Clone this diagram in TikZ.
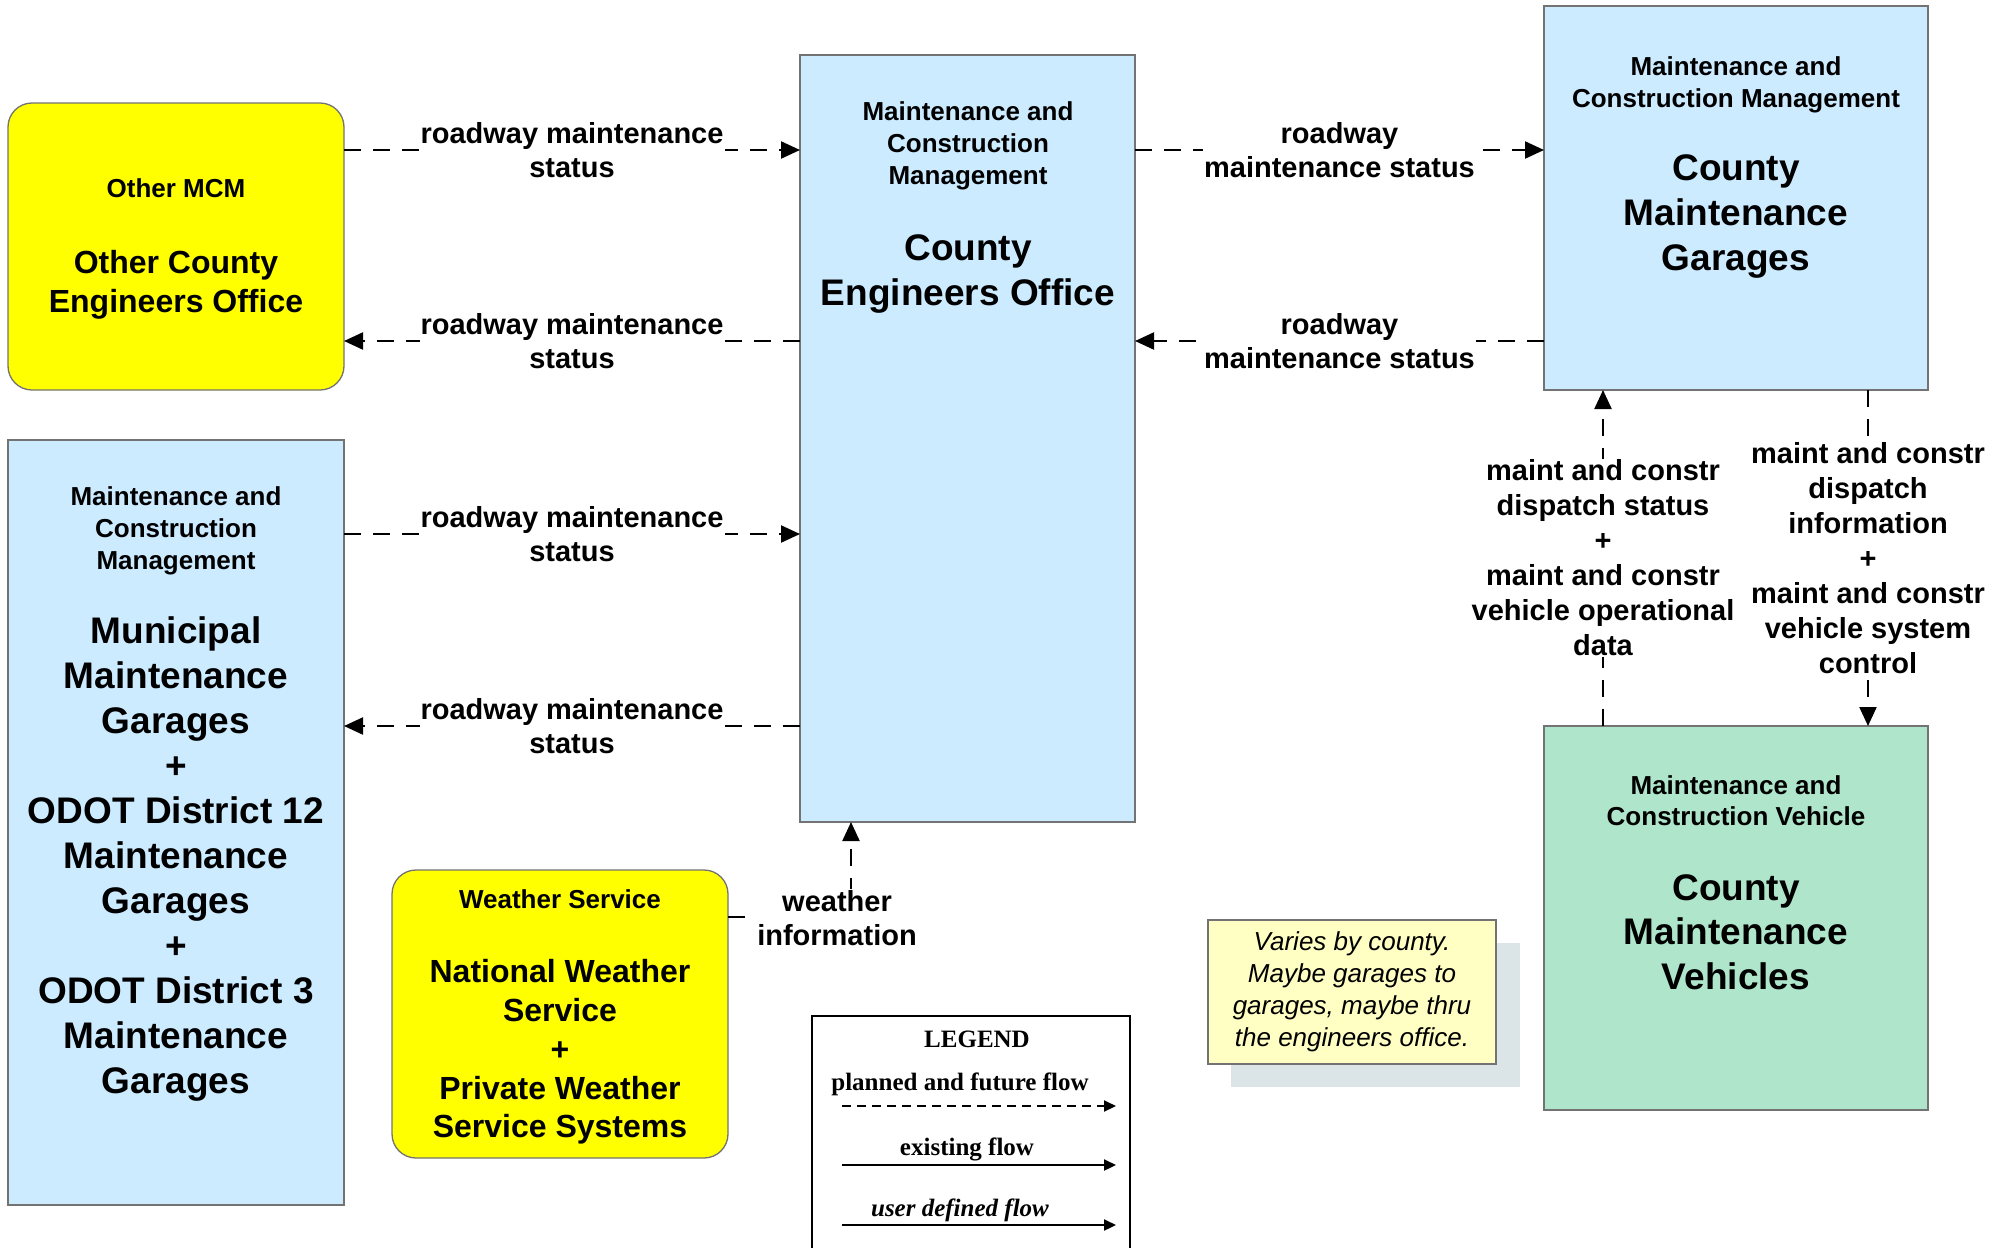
\documentclass[tikz,border=0pt]{standalone}
\usepackage{fontspec}
\setmainfont{Liberation Sans}
\newfontfamily\legfont{Liberation Serif}
\usetikzlibrary{arrows.meta}
\definecolor{boxblue}{RGB}{204,235,255}
\definecolor{boxgreen}{RGB}{174,229,203}
\definecolor{boxyellow}{RGB}{255,255,0}
\definecolor{noteyellow}{RGB}{255,255,196}
\definecolor{noteshadow}{RGB}{219,229,232}
\definecolor{edgegrey}{RGB}{115,115,115}
\begin{document}
\begin{tikzpicture}[x=1pt,y=-1pt,
  box/.style={draw=edgegrey, line width=1.3pt, inner sep=0pt, outer sep=0pt, anchor=north west},
  bluebox/.style={box, fill=boxblue},
  greenbox/.style={box, fill=boxgreen},
  ybox/.style={box, fill=boxyellow, rounded corners=24pt},
  smalltxt/.style={font=\fontsize{26}{32}\selectfont\bfseries, align=center, inner sep=0pt},
  bigtxt/.style={font=\fontsize{37}{45}\selectfont\bfseries, align=center, inner sep=0pt},
  midtxt/.style={font=\fontsize{32}{39}\selectfont\bfseries, align=center, inner sep=0pt},
  flow/.style={line width=2.2pt, dash pattern=on 17pt off 12pt, -{Triangle[length=19pt,width=17pt]}},
  lbl/.style={fill=white, inner sep=1pt, align=center, font=\fontsize{29}{34}\selectfont\bfseries},
  vlbl/.style={lbl, font=\fontsize{29}{35}\selectfont\bfseries},
  legtxt/.style={font=\legfont\bfseries\fontsize{25}{30}\selectfont, inner sep=0pt},
  legdash/.style={line width=2pt, dash pattern=on 9pt off 6pt, -{Triangle[length=12pt,width=11pt]}},
  legsolid/.style={line width=2.2pt, -{Triangle[length=12pt,width=11pt]}}
]
\useasboundingbox (0,0) rectangle (1998,1248);

% boxes
\node[ybox, minimum width=336pt, minimum height=287pt] (mcm) at (8,103) {};
\node[bluebox, minimum width=335pt, minimum height=767pt] (ceo) at (800,55) {};
\node[bluebox, minimum width=384pt, minimum height=384pt] (gar) at (1544,6) {};
\node[bluebox, minimum width=336pt, minimum height=765pt] (mun) at (8,440) {};
\node[ybox, minimum width=336pt, minimum height=288pt] (ws) at (392,870) {};
\node[greenbox, minimum width=384pt, minimum height=384pt] (veh) at (1544,726) {};

% box texts
\node[smalltxt] (ceo-s) at (968,146) {Maintenance and\\Construction\\Management};
\node[bigtxt] (ceo-b) at (968,273.5) {County\\Engineers Office};
\node[smalltxt] (gar-s) at (1736,85) {Maintenance and\\Construction Management};
\node[bigtxt] (gar-b) at (1736,216) {County\\Maintenance\\Garages};
\node[smalltxt] (mcm-s) at (176,188) {Other MCM};
\node[midtxt] (mcm-b) at (176,285) {Other County\\Engineers Office};
\node[smalltxt] (mun-s) at (176,531) {Maintenance and\\Construction\\Management};
\node[bigtxt, font=\fontsize{37}{45}\selectfont\bfseries] (mun-b) at (176,859) {Municipal\\Maintenance\\Garages\\+\\ODOT District 12\\Maintenance\\Garages\\+\\ODOT District 3\\Maintenance\\Garages};
\node[smalltxt] (ws-s) at (560,899) {Weather Service};
\node[midtxt, font=\fontsize{32}{38.75}\selectfont\bfseries] (ws-b) at (560,1052) {National Weather\\Service\\+\\Private Weather\\Service Systems};
\node[smalltxt, font=\fontsize{26}{31}\selectfont\bfseries] (veh-s) at (1736,801) {Maintenance and\\Construction Vehicle};
\node[bigtxt, font=\fontsize{37}{44.5}\selectfont\bfseries] (veh-b) at (1736,932) {County\\Maintenance\\Vehicles};

% note
\fill[noteshadow] (1231,943) rectangle (1520,1087);
\node[box, fill=noteyellow, minimum width=288pt, minimum height=144pt, align=center,
      font=\fontsize{26}{32}\selectfont\itshape] (note) at (1208,920)
  {Varies by county.\\Maybe garages to\\garages, maybe thru\\the engineers office.};

% row coordinates
\coordinate (r1) at (0,150);
\coordinate (r2) at (0,341);
\coordinate (r3) at (0,534);
\coordinate (r4) at (0,726);
\coordinate (c1) at (1603,0);
\coordinate (c2) at (1868,0);
\coordinate (wc) at (851,917);

% connectors
\draw[flow] (mcm.east |- r1) -- node[lbl] (l1) {roadway maintenance\\status} (ceo.west |- r1);
\draw[flow] (ceo.west |- r2) -- node[lbl] (l2) {roadway maintenance\\status} (mcm.east |- r2);
\draw[flow] (mun.east |- r3) -- node[lbl] (l3) {roadway maintenance\\status} (ceo.west |- r3);
\draw[flow] (ceo.west |- r4) -- node[lbl] (l4) {roadway maintenance\\status} (mun.east |- r4);
\draw[flow] (ceo.east |- r1) -- node[lbl] (l5) {roadway\\maintenance status} (gar.west |- r1);
\draw[flow] (gar.west |- r2) -- node[lbl] (l6) {roadway\\maintenance status} (ceo.east |- r2);
\draw[flow] (veh.north -| c1) -- node[vlbl] (l7) {maint and constr\\dispatch status\\+\\maint and constr\\vehicle operational\\data} (gar.south -| c1);
\draw[flow] (gar.south -| c2) -- node[vlbl] (l8) {maint and constr\\dispatch\\information\\+\\maint and constr\\vehicle system\\control} (veh.north -| c2);
\draw[flow] (ws.east |- wc) -- (wc) -- (ceo.south -| wc);
\node[lbl] (wl) at (837,918) {weather\\information};

% legend
\node[draw=black, line width=2.5pt, fill=white, inner sep=0pt, outer sep=0pt, anchor=north west,
      minimum width=318pt, minimum height=260pt] (leg) at (812,1016) {};
\node[legtxt] (leg-t) at (977,1039) {LEGEND};
\node[legtxt] (leg-1) at (960,1084) {planned and future flow};
\node[legtxt] (leg-2) at (967,1149) {existing flow};
\node[legtxt, font=\legfont\bfseries\itshape\fontsize{25}{30}\selectfont] (leg-3) at (960,1210) {user defined flow};
\coordinate (la1) at (842,1106); \coordinate (lb1) at (1116,1106);
\coordinate (la2) at (842,1165); \coordinate (lb2) at (1116,1165);
\coordinate (la3) at (842,1225); \coordinate (lb3) at (1116,1225);
\draw[legdash] (la1) -- (lb1);
\draw[legsolid] (la2) -- (lb2);
\draw[legsolid] (la3) -- (lb3);
\end{tikzpicture}
\end{document}
